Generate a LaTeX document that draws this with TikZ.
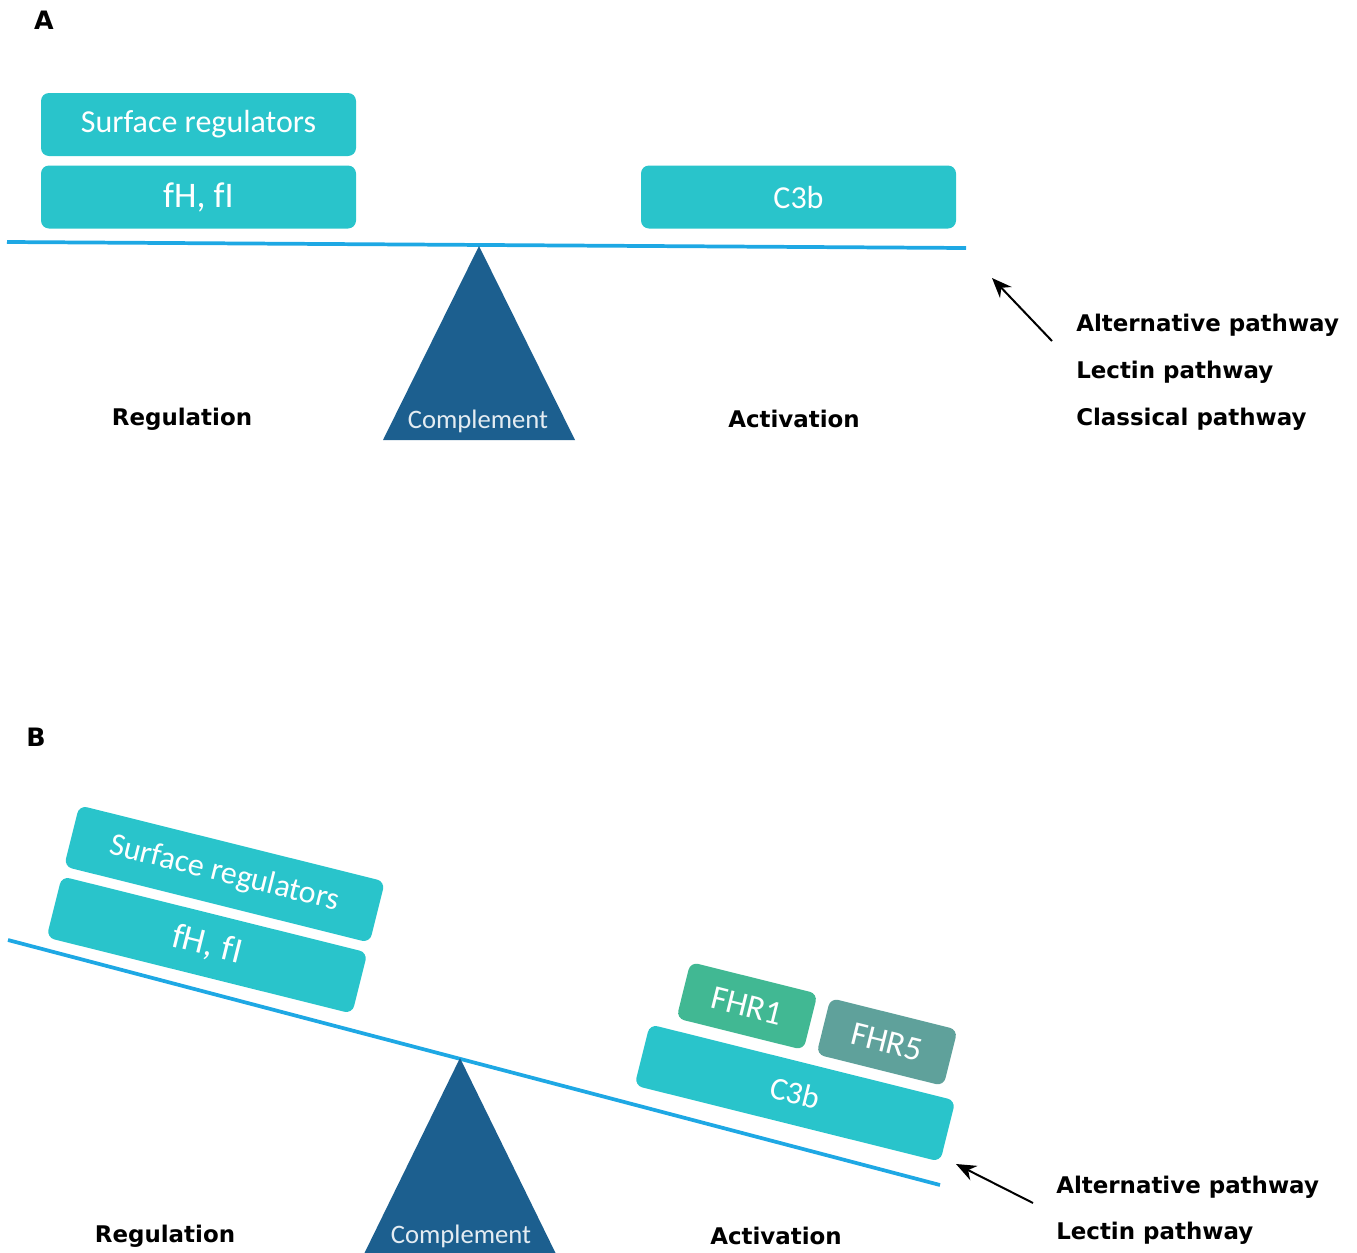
\documentclass[tikz,border=0pt]{standalone}
\usepackage{fontspec}
\setmainfont{Carlito}
\newfontfamily\labfont{DejaVu Sans}
\usetikzlibrary{arrows.meta}
\definecolor{boxteal}{HTML}{29C4CB}
\definecolor{beamblue}{HTML}{1EA8E4}
\definecolor{fulcrum}{HTML}{1C5F8F}
\definecolor{fhrone}{HTML}{41B893}
\definecolor{fhrfive}{HTML}{5FA19B}
\definecolor{complementtext}{HTML}{E4ECF2}
\tikzset{
  bigbox/.style={fill=boxteal, draw=none, rounded corners=6pt, minimum width=236.25pt, minimum height=47.25pt, inner sep=0pt, text=white, font=\fontsize{24pt}{28pt}\selectfont},
  smallbox/.style={draw=none, rounded corners=6pt, minimum width=98.25pt, minimum height=43.5pt, inner sep=0pt, text=white, font=\fontsize{25.5pt}{30pt}\selectfont},
  beam/.style={draw=beamblue, line width=2.8pt},
  fulcrumfill/.style={fill=fulcrum, draw=none},
  complabel/.style={text=complementtext, font=\fontsize{20pt}{24pt}\selectfont, inner sep=0pt},
  sidelabel/.style={font=\labfont\bfseries\fontsize{17.2pt}{20pt}\selectfont, inner sep=0pt},
  pathlabel/.style={font=\labfont\bfseries\fontsize{17.2pt}{20pt}\selectfont, inner sep=0pt, anchor=west},
  paneltag/.style={font=\labfont\bfseries\fontsize{19pt}{22pt}\selectfont, inner sep=0pt},
  pointer/.style={draw=black, line width=1.5pt, -{Stealth[length=15pt, width=12pt]}}
}
\begin{document}
\begin{tikzpicture}[x=0.75pt, y=-0.75pt]
\useasboundingbox (0,0) rectangle (1357,1253);

% ---------------- Panel A ----------------
\node[paneltag] (tagA) at (44,20) {A};

\coordinate (beamAl) at (7,242);
\coordinate (beamAr) at (966,248);
\draw[beam] (beamAl) -- (beamAr);

\coordinate (apexA) at (479,246);
\coordinate (baseAl) at (383,440);
\coordinate (baseAr) at (575,440);
\fill[fulcrumfill] (apexA) -- (baseAr) -- (baseAl) -- cycle;
\node[complabel] (compA) at (478,421) {Complement};

\node[bigbox] (surfA) at (198.5,124.5) {Surface regulators};
\node[bigbox, font=\fontsize{27pt}{30pt}\selectfont] (fhA) at (198.5,197) {fH, fI};
\node[bigbox] (c3bA) at (798.5,197) {C3b};

\node[sidelabel] (regA) at (182,419) {Regulation};
\node[sidelabel] (actA) at (794,419) {Activation};

\node[pathlabel] (altA) at (1076,325) {Alternative pathway};
\node[pathlabel] (lecA) at (1076,372) {Lectin pathway};
\node[pathlabel] (claA) at (1076,419) {Classical pathway};

\coordinate (arrAs) at (1052,341);
\coordinate (arrAe) at (992,278);
\draw[pointer] (arrAs) -- (arrAe);

% ---------------- Panel B ----------------
\node[paneltag] (tagB) at (36,737) {B};

\coordinate (beamBl) at (8,940);
\coordinate (beamBr) at (940,1185);
\draw[beam] (beamBl) -- (beamBr);

\coordinate (apexB) at (460,1058);
\coordinate (baseBl) at (364,1254);
\coordinate (baseBr) at (556,1254);
\fill[fulcrumfill] (apexB) -- (baseBr) -- (baseBl) -- cycle;
\node[complabel] (compB) at (461,1236) {Complement};

\node[bigbox, rotate=-14] (surfB) at (224.5,874) {Surface regulators};
\node[bigbox, rotate=-14, font=\fontsize{27pt}{30pt}\selectfont] (fhB) at (207,945) {fH, fI};
\node[bigbox, rotate=-14] (c3bB) at (795,1093) {C3b};
\node[smallbox, fill=fhrone, rotate=-14] (fhr1) at (747,1006) {FHR1};
\node[smallbox, fill=fhrfive, rotate=-14] (fhr5) at (887,1042) {FHR5};

\node[sidelabel] (regB) at (165,1236) {Regulation};
\node[sidelabel] (actB) at (776,1236) {Activation};

\node[pathlabel] (altB) at (1056,1187) {Alternative pathway};
\node[pathlabel] (lecB) at (1056,1233) {Lectin pathway};

\coordinate (arrBs) at (1033,1203);
\coordinate (arrBe) at (956,1164);
\draw[pointer] (arrBs) -- (arrBe);
\end{tikzpicture}
\end{document}
